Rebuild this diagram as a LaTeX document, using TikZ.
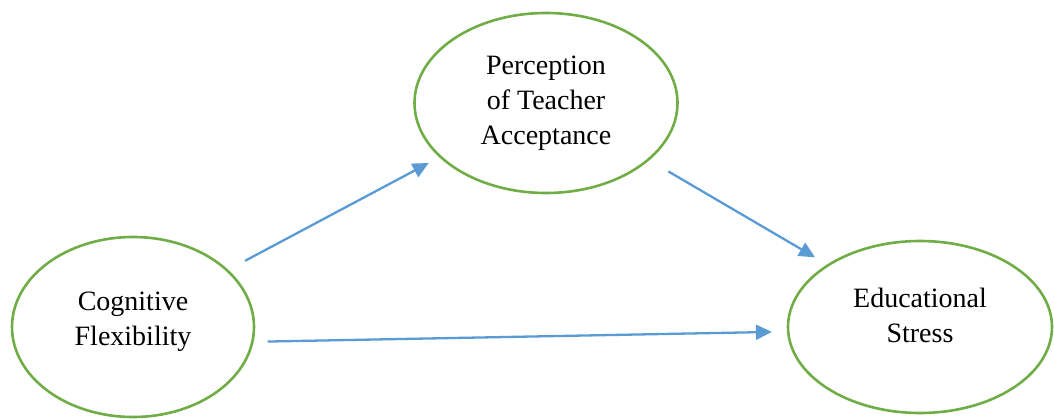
\documentclass[tikz,border=0pt]{standalone}
\usepackage{fontspec}
\setmainfont{Liberation Serif}
\usetikzlibrary{shapes.geometric,arrows.meta}

\definecolor{ovalgreen}{RGB}{112,173,71}
\definecolor{arrowblue}{RGB}{91,155,213}

\begin{document}
\begin{tikzpicture}[
    x=1pt, y=-1pt,
    % --- Styles ---
    % Green oval for each construct
    construct node/.style={ellipse, draw=ovalgreen, line width=2.6pt, inner sep=0pt,
        align=center, font=\fontsize{28}{35}\selectfont},
    % Blue path arrows (kept off the ovals with shorten)
    path arrow/.style={draw=arrowblue, line width=2.3pt, -{Triangle[length=16pt,width=15pt]}}
]

%================CANVAS================
\useasboundingbox (0,0) rectangle (1054,419);
%======================================

% --- Constructs ---
% text depth lifts the two-line labels a little above the oval centre
\node[construct node, minimum width=242pt, minimum height=180pt, text depth=16pt] (CF) at (133,327) {Cognitive\\Flexibility};
\node[construct node, minimum width=263pt, minimum height=180pt] (PTA) at (546,103) {Perception\\of Teacher\\Acceptance};
\node[construct node, minimum width=264pt, minimum height=172pt, text depth=24pt] (ES) at (920,327) {Educational\\Stress};

% --- Paths ---
\draw[path arrow, shorten <=19pt, shorten >=12pt] (CF.31) -- (PTA.207);
\draw[path arrow, shorten <=22pt, shorten >=14pt] (PTA.331) -- (ES.146);
\draw[path arrow, shorten <=14pt, shorten >=15pt] (CF.353) -- (ES.182);

\end{tikzpicture}
\end{document}
